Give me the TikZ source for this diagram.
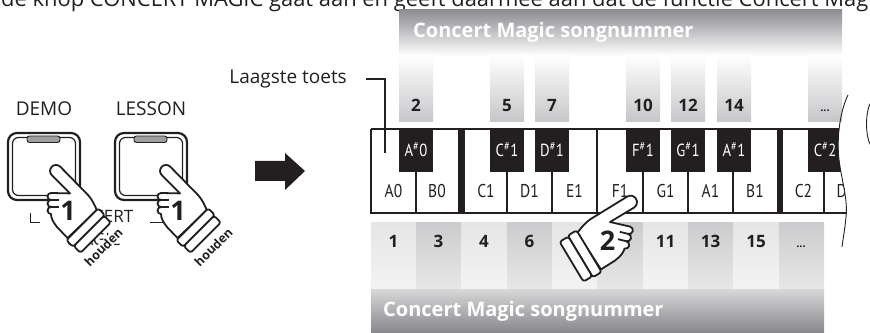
\documentclass[tikz,border=0pt]{standalone}
\usepackage{graphicx}
\usepackage{fontspec}
\setmainfont{Open Sans}
\newfontfamily\condfont[FakeStretch=0.84]{PT Sans}

\definecolor{ink}{RGB}{35,31,32}
\definecolor{bandtop}{RGB}{140,140,146}
\definecolor{stripbot}{RGB}{198,198,201}
\definecolor{lighttop}{RGB}{229,229,230}
\definecolor{lightbot}{RGB}{244,244,244}
\definecolor{darktop}{RGB}{204,204,206}
\definecolor{darkbot}{RGB}{232,232,233}
\definecolor{bbtop}{RGB}{214,214,215}
\definecolor{bbbot}{RGB}{136,136,141}
\definecolor{ledgray}{RGB}{158,158,160}

\tikzset{
  handline/.style={line width=1.8pt, draw=ink, fill=white, line join=round},
  digit/.style={font=\bfseries\fontsize{27}{27}\selectfont, text=ink, inner sep=0pt},
  houden/.style={font=\bfseries\fontsize{12.5}{13}\selectfont, text=ink, fill=white, inner sep=0.6pt, rotate=45},
  pics/hand/.style={code={
    % palm with extended index finger and three curled fingers
    \filldraw[handline] (2,17.6) -- (-16.2,35.8)
      arc[start angle=225,end angle=45,radius=6]
      -- (20,16) .. controls (24,12) and (27,5) .. (29,0.5)
      -- (-0.5,-27) -- (-11,-16) .. controls (-15,-11) and (-17,-7) .. (-17,-3)
      arc[start angle=270,end angle=90,radius=3.5]
      arc[start angle=270,end angle=90,radius=3.5]
      arc[start angle=270,end angle=90,radius=3.5] -- cycle;
    \draw[handline] (-17,4) -- (-9,4) (-17,11) -- (-9,11);
    % cuff
    \begin{scope}[shift={(14.25,-13.25)},rotate=45]
      \filldraw[handline,rounded corners=2.5pt] (-22.5,0) rectangle (22.5,-9.5);
      \filldraw[handline,rounded corners=2.5pt] (-21.5,-9.5) rectangle (21.5,-19);
    \end{scope}
    \node[digit] (-num) at (0,0) {#1};
  }},
  keyline/.style={line width=1.3pt, draw=ink},
  whitelbl/.style={font=\condfont\fontsize{18.5}{20}\selectfont, text=ink, inner sep=0pt, anchor=base},
  blacklbl/.style={font=\condfont\fontsize{17.5}{19}\selectfont, text=white, inner sep=0pt, anchor=base},
  numlbl/.style={font=\bfseries\fontsize{17}{19}\selectfont, text=ink, inner sep=0pt, anchor=base},
  morelbl/.style={font=\bfseries\fontsize{11}{12}\selectfont, text=ink, inner sep=0pt, anchor=base},
  headtxt/.style={font=\bfseries\fontsize{20}{22}\selectfont, text=white, inner sep=0pt, anchor=base west},
  plain/.style={font=\fontsize{19}{21}\selectfont, text=ink, inner sep=0pt, anchor=base},
  btnouter/.style={line width=2.2pt, draw=ink, rounded corners=9pt},
  btninner/.style={line width=1.2pt, draw=ink, rounded corners=6pt},
  led/.style={line width=0.9pt, draw=ink, fill=ledgray, rounded corners=2.5pt},
}

\begin{document}
\begin{tikzpicture}[x=1pt,y=1pt]
\useasboundingbox (0,0) rectangle (870,332);
\clip (0,0) rectangle (870,332);

% introductory sentence, cut by the top edge
\node[anchor=base west, inner sep=0pt, text=ink] (intro) at (1,325)
  {\resizebox{867pt}{!}{de knop CONCERT MAGIC gaat aan en geeft daarmee aan dat de functie Concert Mag}};

% ---------- panel buttons ----------
\node[plain] (demo) at (44,216) {DEMO};
\node[plain] (lesson) at (151,216) {LESSON};

\draw[btnouter] (8,132) rectangle (80,199);
\draw[btninner] (12.5,136.5) rectangle (75.5,194.5);
\draw[led] (27,189.5) rectangle (60,196);

\draw[btnouter] (115,132) rectangle (187,199);
\draw[btninner] (119.5,136.5) rectangle (182.5,194.5);
\draw[led] (134,189.5) rectangle (167,196);

% CONCERT MAGIC label with corner brackets
\node[plain, font=\fontsize{17}{18}\selectfont] (cm1) at (95,109) {CONCERT};
\node[plain, font=\fontsize{17}{18}\selectfont] (cm2) at (94,86) {MAGIC};
\draw[line width=1pt, ink] (30,119) -- (30,109) -- (40,109);
\draw[line width=1pt, ink] (150,109) -- (164,109) -- (164,119);

% hands pressing the buttons
\pic (hA) at (68,121) {hand=1};
\pic (hB) at (178,121) {hand=1};
\node[houden] (hldA) at (103.5,85) {houden};
\node[houden] (hldB) at (213.5,85) {houden};

% block arrow
\fill[ink] (255,171) -- (285,171) -- (285,179) -- (305,161) -- (285,142) -- (285,151) -- (255,151) -- cycle;

% ---------- song number bands ----------
\shade[top color=bandtop, bottom color=white] (399,276) rectangle (842,322);
\node[headtxt] (hdtop) at (413,294) {Concert Magic songnummer};

\foreach \xa/\xb/\n in {399/433/2, 490/524/5, 535/569/7, 626/660/10, 671/705/12, 717/751/14}{
  \shade[top color=white, bottom color=stripbot] (\xa,210) rectangle (\xb,277);
  \node[numlbl] (t\n) at ({(\xa+\xb)/2},220) {\n};
}
\shade[top color=white, bottom color=stripbot] (808,210) rectangle (842,277);
\node[morelbl] (tmore) at (825,220) {...};

\foreach \xa/\xb/\ct/\cb in {371/416/lighttop/lightbot, 416/461/darktop/darkbot,
                             461/507/lighttop/lightbot, 507/552/darktop/darkbot,
                             552/597/lighttop/lightbot, 597/643/darktop/darkbot,
                             643/688/lighttop/lightbot, 688/733/darktop/darkbot,
                             733/779/lighttop/lightbot, 779/824/darktop/darkbot}{
  \shade[top color=\ct, bottom color=\cb] (\xa,42) rectangle (\xb,109);
}
\foreach \x/\n in {393.5/1, 438.5/3, 484/4, 529.5/6, 574.5/8, 665.5/11, 710.5/13, 756/15}{
  \node[numlbl] (b\n) at (\x,84) {\n};
}
\node[morelbl] (bmore) at (801,84) {...};

\shade[top color=bbtop, bottom color=bbbot] (371,0) rectangle (824,42);
\node[headtxt] (hdbot) at (383,16) {Concert Magic songnummer};

% ---------- keyboard, torn off at the right ----------
\begin{scope}
  \clip (360,85) -- (360,237) -- (848,237) .. controls (842,225) and (836,200) .. (839,172)
        .. controls (842,150) and (848,132) .. (846,115) .. controls (845,104) and (843,93) .. (842,85) -- cycle;
  \fill[white] (371,119) rectangle (870,203);
  \foreach \x in {416,507,552,597,643,688,733,824}{
    \draw[keyline] (\x,119) -- (\x,203);
  }
  \draw[keyline] (371,203) -- (371,119) -- (870,119);
  \draw[keyline] (371,203) -- (870,203);
  \fill[ink] (458,119) rectangle (465,203);
  \fill[ink] (777,119) rectangle (783,203);
  \foreach \xa/\xb in {399/433, 490/524, 535/569, 626/660, 671/705, 717/751, 808/842}{
    \fill[ink] (\xa,160) rectangle (\xb,203.6);
  }
  \foreach \x/\t [count=\i] in {393.5/A0, 437/B0, 486/C1, 529.5/D1, 574.5/E1, 620/F1, 665.5/G1, 710.5/A1, 755/B1, 803.5/C2, 846/D2}{
    \node[whitelbl] (w\i) at (\x,134) {\t};
  }
  \foreach \x/\a/\b [count=\i] in {416/A/0, 507/C/1, 552/D/1, 643/F/1, 688/G/1, 734/A/1, 825/C/2}{
    \node[blacklbl] (k\i) at (\x,175) {\a\textsuperscript{\#}\b};
  }
\end{scope}
\draw[line width=0.9pt, ink] (848,237) .. controls (842,225) and (836,200) .. (839,172)
      .. controls (842,150) and (848,132) .. (846,115) .. controls (845,104) and (843,93) .. (842,85);
\draw[line width=0.9pt, ink] (871,230) .. controls (865,220) and (865,196) .. (871,186);

% lowest key pointer
\node[plain, anchor=base east] (lowest) at (347,248) {Laagste toets};
\coordinate (ltstart) at (366,253);
\coordinate (ltcorner) at (385,253);
\coordinate (ltend) at (385,179);
\draw[line width=1.2pt, ink] (ltstart) -- (ltcorner) -- (ltend);

% hand playing the key
\pic[rotate=-14, xscale=-1, scale=1.08] (hC) at (607.5,91) {hand=2};
\end{tikzpicture}
\end{document}
